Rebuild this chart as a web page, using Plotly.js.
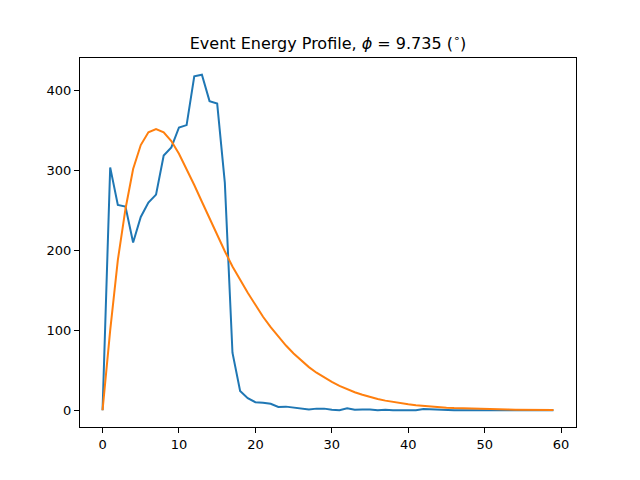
<!DOCTYPE html>
<html>
<head>
<meta charset="utf-8">
<script src="https://cdn.plot.ly/plotly-3.0.1.min.js"></script>
<style>
  body { margin: 0; background: #fff; }
  #plot { width: 640px; height: 480px; }
</style>
</head>
<body>
<div id="plot"></div>
<script>
// bin index along the event
var bins = [];
for (var k = 0; k < 60; k++) bins.push(k);

// measured energy per bin (blue)
var measured = [0, 304, 257, 255, 210, 242, 260, 270, 319, 329,
  354, 357, 418, 420, 387, 384, 285, 72, 24, 15,
  10, 9.5, 8, 4, 4.5, 3.5, 2, 1, 2, 2,
  0.5, 0, 2.5, 0.5, 1, 1, 0, 0.5, 0, 0,
  0.5, 0, 1.5, 1, 0.5, 0, 0, 0, 0, 0,
  0, 0, 0, 0, 0, 0, 0, 0, 0, 0];

// fitted profile (orange)
var fitted = [0, 100, 188, 252, 302, 332, 348, 352, 348, 337,
  321, 302, 282, 261, 240, 219, 199, 180, 163, 147,
  132, 117, 104, 92, 81, 71, 62, 54, 47, 41,
  35.5, 30.5, 26, 22.5, 19.3, 16.5, 14, 12, 10.2, 8.7,
  7.4, 6.3, 5.3, 4.5, 3.8, 3.2, 2.7, 2.3, 1.9, 1.6,
  1.4, 1.2, 1.0, 0.8, 0.7, 0.6, 0.5, 0.4, 0.35, 0.3];

var data = [
  {
    x: bins,
    y: measured,
    type: 'scatter',
    mode: 'lines',
    line: {color: '#1f77b4', width: 2}
  },
  {
    x: bins,
    y: fitted,
    type: 'scatter',
    mode: 'lines',
    line: {color: '#ff7f0e', width: 2}
  }
];

var axisStyle = {
  showgrid: false,
  zeroline: false,
  showline: true,
  linecolor: '#000',
  linewidth: 1,
  mirror: true,
  ticks: 'outside',
  ticklen: 5,
  tickwidth: 1,
  tickcolor: '#000',
  tickfont: {family: 'DejaVu Sans', size: 13, color: '#000'}
};

var layout = {
  width: 640,
  height: 480,
  margin: {l: 80, r: 64, t: 58, b: 53},
  paper_bgcolor: '#fff',
  plot_bgcolor: '#fff',
  showlegend: false,
  title: {
    text: 'Event Energy Profile, <i>ϕ</i> = 9.735 (<sup>∘</sup>)',
    font: {family: 'DejaVu Sans', size: 16, color: '#000'},
    x: 0.5,
    xref: 'paper',
    y: 1 - 43 / 480,
    yref: 'container',
    yanchor: 'middle'
  },
  xaxis: Object.assign({}, axisStyle, {range: [-2.95, 61.95], dtick: 10, tick0: 0}),
  yaxis: Object.assign({}, axisStyle, {range: [-21, 441], dtick: 100, tick0: 0})
};

Plotly.newPlot('plot', data, layout, {displayModeBar: false, staticPlot: true});
</script>
</body>
</html>
